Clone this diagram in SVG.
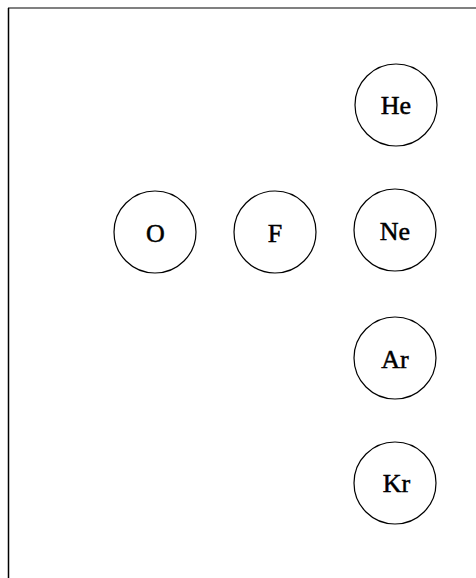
<svg xmlns="http://www.w3.org/2000/svg" width="476" height="578" viewBox="0 0 476 578">
<style>
.n circle{fill:#fff;stroke:#000;stroke-width:1.2}
.n text{font-family:"Liberation Serif","Times New Roman",serif;font-size:26px;text-anchor:middle;fill:#000;stroke:#000;stroke-width:0.5}
</style>
<rect width="476" height="578" fill="#fff"/>
<g id="frame">
<line x1="8" y1="8" x2="476" y2="8" stroke="#808080" stroke-width="2"/>
<line x1="8.5" y1="8" x2="8.5" y2="578" stroke="#000" stroke-width="1.5"/>
</g>
<g id="connectors"></g>
<g id="He" class="n"><circle cx="396" cy="105" r="41"/><text x="396" y="114">He</text></g>
<g id="O" class="n"><circle cx="155" cy="232" r="41"/><text x="155.5" y="242">O</text></g>
<g id="F" class="n"><circle cx="275" cy="232" r="41"/><text x="275" y="242">F</text></g>
<g id="Ne" class="n"><circle cx="395" cy="230" r="41"/><text x="395" y="239.5">Ne</text></g>
<g id="Ar" class="n"><circle cx="395" cy="358" r="41"/><text x="395" y="367.5">Ar</text></g>
<g id="Kr" class="n"><circle cx="395" cy="483" r="41"/><text x="396.5" y="492.3">Kr</text></g>
</svg>
